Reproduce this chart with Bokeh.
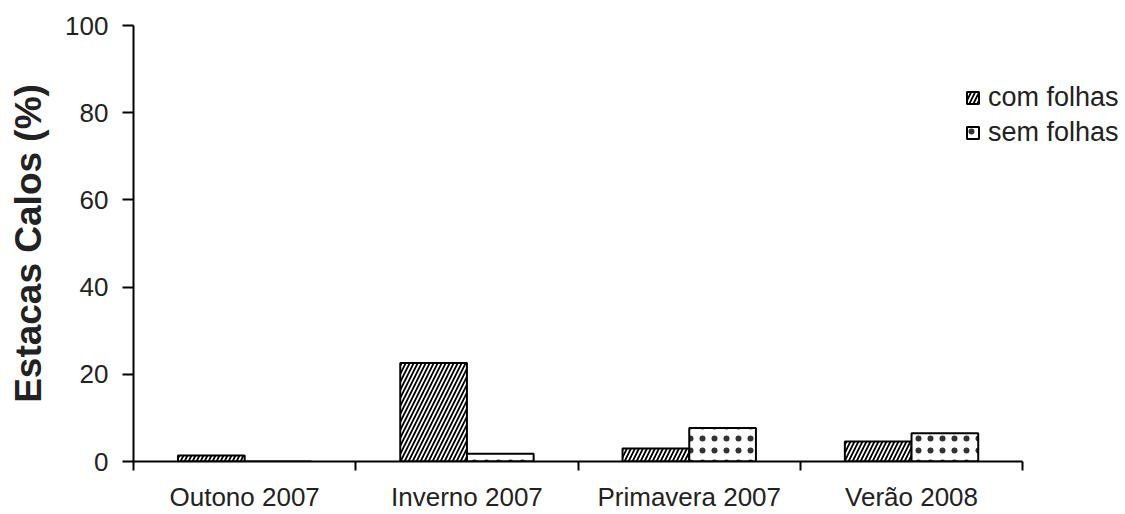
import numpy as np
from bokeh.plotting import figure
from bokeh.models import ColumnDataSource, FixedTicker, Legend, LegendItem, Range1d
from bokeh.embed import file_html
from bokeh.resources import INLINE

categories = ["Outono 2007", "Inverno 2007", "Primavera 2007", "Verão 2008"]
com_folhas = [1.4, 22.6, 3.0, 4.6]
sem_folhas = [0.0, 1.8, 7.7, 6.5]
y_ticks = [0, 20, 40, 60, 80, 100]

n = len(categories)
idx = np.arange(n)
bar_w = 0.3

FONT = "Liberation Sans"

p = figure(width=1120, height=514, output_backend="svg", toolbar_location=None,
           x_range=Range1d(0, 4.44), y_range=Range1d(0, 100),
           min_border_top=25, min_border_left=133, min_border_bottom=51, min_border_right=0)
p.outline_line_color = None
p.grid.grid_line_color = None
p.background_fill_color = "white"

src_c = ColumnDataSource(dict(x=idx + 0.5 - bar_w / 2, top=com_folhas))
src_s = ColumnDataSource(dict(x=idx + 0.5 + bar_w / 2, top=sem_folhas))

r1 = p.vbar(x="x", top="top", width=bar_w, source=src_c, fill_color="white",
            line_color="black", line_width=2, hatch_pattern="/", hatch_color="black",
            hatch_scale=8, hatch_weight=1.8)
r2 = p.vbar(x="x", top="top", width=bar_w, source=src_s, fill_color="white",
            line_color="black", line_width=2, hatch_pattern=".", hatch_color="#333333",
            hatch_scale=12, hatch_weight=0.7)

# x axis
xa = p.xaxis[0]
xa.ticker = FixedTicker(ticks=list(idx + 0.5), minor_ticks=list(range(n + 1)))
xa.major_label_overrides = {float(i + 0.5): c for i, c in enumerate(categories)}
xa.major_tick_line_color = None
xa.major_tick_in = 0
xa.major_tick_out = 0
xa.minor_tick_in = 0
xa.minor_tick_out = 9
xa.minor_tick_line_width = 2
xa.minor_tick_line_color = "black"
xa.axis_line_width = 2
xa.axis_line_color = "black"
xa.bounds = (0, n)
xa.major_label_standoff = 11
xa.major_label_text_font = FONT
xa.major_label_text_font_size = "26px"
xa.major_label_text_color = "#222222"

# y axis
ya = p.yaxis[0]
ya.ticker = FixedTicker(ticks=y_ticks, minor_ticks=[])
ya.major_tick_in = 0
ya.major_tick_out = 11
ya.major_tick_line_width = 2
ya.axis_line_width = 2
ya.axis_line_color = "black"
ya.major_label_standoff = 14
ya.major_label_text_font = FONT
ya.major_label_text_font_size = "26px"
ya.major_label_text_color = "#222222"
ya.axis_label = "Estacas Calos (%)"
ya.axis_label_text_font = FONT
ya.axis_label_text_font_size = "37px"
ya.axis_label_text_font_style = "bold"
ya.axis_label_text_color = "#222222"
ya.axis_label_standoff = 13

legend = Legend(items=[LegendItem(label="com folhas", renderers=[r1]),
                       LegendItem(label="sem folhas", renderers=[r2])],
                location=(832, 313), padding=0, margin=0, spacing=4,
                glyph_width=15, glyph_height=15, label_height=15, label_standoff=8,
                border_line_color=None, background_fill_alpha=0,
                label_text_font=FONT, label_text_font_size="27px",
                label_text_color="#222222")
p.add_layout(legend, "center")

open("out.html", "w").write(file_html(p, INLINE))
